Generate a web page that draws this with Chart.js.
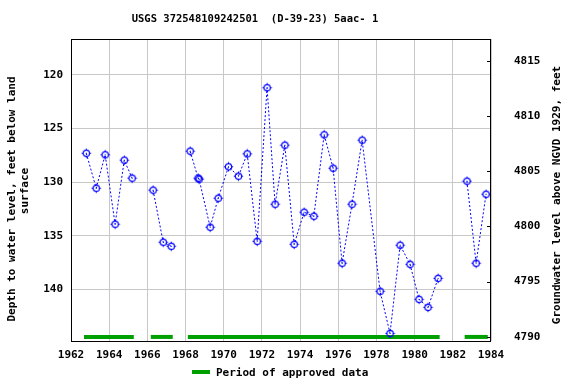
<!DOCTYPE html>
<html>
<head>
<meta charset="utf-8">
<script src="https://cdn.jsdelivr.net/npm/chart.js@4/dist/chart.umd.min.js"></script>
<style>
    body { margin: 0; background: #fff; }
    canvas { display: block; }
</style>
</head>
<body>
<canvas id="chart" width="576" height="384"></canvas>
<script>
const TITLE = 'USGS 372548109242501  (D-39-23) 5aac- 1';

// measurement dates (decimal years) and depth to water, feet below land surface
const dates = [1962.80, 1963.32, 1963.79, 1964.31, 1964.79, 1965.20,
    1966.30, 1966.83, 1967.25,
    1968.24, 1968.66, 1968.71, 1969.29, 1969.71, 1970.25, 1970.77, 1971.23, 1971.75,
    1972.27, 1972.69, 1973.20, 1973.69, 1974.21, 1974.72, 1975.26, 1975.73, 1976.20,
    1976.72, 1977.25, 1978.19, 1978.71, 1979.24, 1979.76, 1980.23, 1980.70, 1981.23,
    1982.74, 1983.22, 1983.74];
const depths = [127.3, 130.57, 127.45, 133.93, 127.95, 129.63,
    130.75, 135.61, 135.99,
    127.11, 129.63, 129.72, 134.21, 131.5, 128.57, 129.44, 127.36, 135.52,
    121.19, 132.06, 126.55, 135.8, 132.81, 133.18, 125.58, 128.7, 137.57,
    132.06, 126.08, 140.19, 144.12, 135.89, 137.67, 140.94, 141.69, 138.98,
    129.91, 137.57, 131.13];
// no line drawn after these points
const gapAfter = [5, 8, 35];

// periods of approved data
const approvedStart = [1962.68, 1966.18, 1968.12, 1982.62];
const approvedEnd = [1965.29, 1967.33, 1981.31, 1983.83];

const xTicks = [1962, 1964, 1966, 1968, 1970, 1972, 1974, 1976, 1978, 1980, 1982, 1984];
const depthTicks = [120, 125, 130, 135, 140];
const elevTicks = [4790, 4795, 4800, 4805, 4810, 4815];

const FONT = 'bold 11px "DejaVu Sans Mono", monospace';
const BLUE = '#0000ff';
const GREEN = '#00a000';

// marker: circle with small ticks, like the usgs plots
function makeMarker() {
    const c = document.createElement('canvas');
    c.width = 11; c.height = 11;
    const g = c.getContext('2d');
    g.strokeStyle = BLUE;
    g.lineWidth = 1.2;
    g.beginPath();
    g.arc(5.5, 5.5, 3.2, 0, Math.PI * 2);
    g.stroke();
    g.lineWidth = 1;
    g.beginPath();
    g.moveTo(5.5, 0.8); g.lineTo(5.5, 2.3);
    g.moveTo(5.5, 8.7); g.lineTo(5.5, 10.2);
    g.moveTo(0.8, 5.5); g.lineTo(2.3, 5.5);
    g.moveTo(8.7, 5.5); g.lineTo(10.2, 5.5);
    g.stroke();
    g.fillStyle = BLUE;
    g.fillRect(5, 5, 1, 1);
    return c;
}

const points = dates.map((d, i) => ({ x: d, y: depths[i] }));

const approvedSets = approvedStart.map((s, i) => ({
    data: [{ x: s, y: 144.45 }, { x: approvedEnd[i], y: 144.45 }],
    borderColor: GREEN,
    borderWidth: 4,
    pointRadius: 0,
    borderCapStyle: 'butt',
    yAxisID: 'y'
}));

const decorations = {
    id: 'decorations',
    afterDraw(chart) {
        const ctx = chart.ctx;
        const a = chart.chartArea;
        ctx.save();
        // border
        ctx.strokeStyle = '#000';
        ctx.lineWidth = 1;
        ctx.strokeRect(a.left + 0.5, a.top + 0.5, a.right - a.left - 1, a.bottom - a.top);
        // right axis inward ticks
        const y2 = chart.scales.y2;
        elevTicks.forEach(v => {
            const py = Math.round(y2.getPixelForValue(v)) + 0.5;
            ctx.beginPath();
            ctx.moveTo(a.right - 4, py);
            ctx.lineTo(a.right, py);
            ctx.stroke();
        });
        ctx.fillStyle = '#000';
        // title
        ctx.font = 'bold 10.5px "DejaVu Sans Mono", monospace';
        ctx.textAlign = 'center';
        ctx.textBaseline = 'middle';
        ctx.fillText(TITLE, 255, 19);
        // axis titles
        ctx.font = FONT;
        ctx.save();
        ctx.translate(12, 199);
        ctx.rotate(-Math.PI / 2);
        ctx.fillText('Depth to water level, feet below land', 0, 0);
        ctx.fillText('surface', 8, 13);
        ctx.restore();
        ctx.save();
        ctx.translate(557, 195);
        ctx.rotate(-Math.PI / 2);
        ctx.fillText('Groundwater level above NGVD 1929, feet', 0, 0);
        ctx.restore();
        // legend
        ctx.fillStyle = GREEN;
        ctx.fillRect(192, 370, 18, 4);
        ctx.fillStyle = '#000';
        ctx.textAlign = 'left';
        ctx.fillText('Period of approved data', 216, 373);
        ctx.restore();
    }
};

const tickFont = { family: '"DejaVu Sans Mono", monospace', size: 11, weight: 'bold' };

new Chart(document.getElementById('chart').getContext('2d'), {
    type: 'line',
    data: {
        datasets: [{
            data: points,
            borderColor: BLUE,
            borderWidth: 1,
            borderDash: [2, 2],
            pointStyle: makeMarker(),
            pointRadius: 5,
            fill: false,
            yAxisID: 'y',
            segment: {
                borderColor: c => gapAfter.includes(c.p0DataIndex) ? 'transparent' : undefined
            }
        }, ...approvedSets]
    },
    options: {
        responsive: false,
        animation: false,
        layout: { padding: { top: 39, left: 0, right: 0, bottom: 0 } },
        plugins: {
            legend: { display: false },
            title: { display: false },
            tooltip: { enabled: false }
        },
        scales: {
            x: {
                type: 'linear',
                min: 1962,
                max: 1984,
                afterBuildTicks: s => { s.ticks = xTicks.map(v => ({ value: v })); },
                afterFit: s => { s.height = 43; },
                grid: { color: '#c8c8c8', drawTicks: false, lineWidth: 1 },
                border: { display: false },
                ticks: {
                    color: '#000',
                    font: tickFont,
                    padding: 8,
                    maxRotation: 0,
                    autoSkip: false,
                    callback: v => String(v)
                }
            },
            y: {
                type: 'linear',
                position: 'left',
                reverse: true,
                min: 116.64,
                max: 144.83,
                afterBuildTicks: s => { s.ticks = depthTicks.map(v => ({ value: v })); },
                afterFit: s => { s.width = 71; },
                grid: { color: '#c8c8c8', drawTicks: false, lineWidth: 1 },
                border: { display: false },
                ticks: {
                    color: '#000',
                    font: tickFont,
                    padding: 8,
                    callback: v => String(v)
                }
            },
            y2: {
                type: 'linear',
                position: 'right',
                min: 4789.61,
                max: 4816.97,
                afterBuildTicks: s => { s.ticks = elevTicks.map(v => ({ value: v })); },
                afterFit: s => { s.width = 85; },
                grid: { display: false },
                border: { display: false },
                ticks: {
                    color: '#000',
                    font: tickFont,
                    padding: 15,
                    callback: v => String(v)
                }
            }
        }
    },
    plugins: [decorations]
});
</script>
</body>
</html>
